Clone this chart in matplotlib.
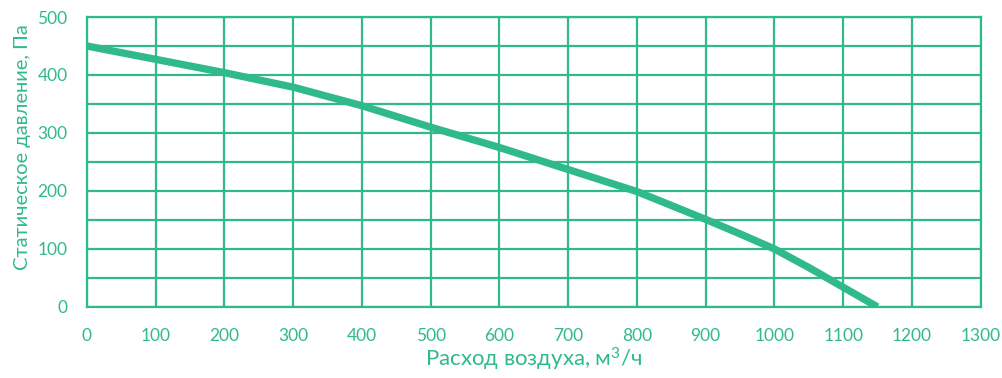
import matplotlib
matplotlib.use("Agg")
import matplotlib.pyplot as plt

# flow rate, m3/h and static pressure, Pa
flow = [0, 100, 200, 300, 400, 500, 600, 700, 800, 900, 950, 1000, 1050, 1100, 1150]
pressure = [450, 427, 404, 379, 347, 310, 275, 237, 199, 151, 126, 100, 68, 34, 0]

x_ticks = list(range(0, 1301, 100))
y_ticks = list(range(0, 501, 100))
y_minor = list(range(50, 500, 100))

GREEN = "#30BA8A"

plt.rcParams['font.family'] = ['Lato', 'DejaVu Sans']
plt.rcParams['mathtext.fontset'] = 'custom'
plt.rcParams['mathtext.rm'] = 'Lato'

fig = plt.figure(figsize=(10.03, 3.78), dpi=100)
ax = fig.add_axes([0.0867, 0.188, 0.891, 0.767])

ax.plot(flow, pressure, color=GREEN, linewidth=5.3, solid_capstyle="butt", zorder=3)

ax.set_xlim(0, 1300)
ax.set_ylim(0, 500)
ax.set_xticks(x_ticks)
ax.set_yticks(y_ticks)
ax.set_yticks(y_minor, minor=True)
ax.grid(True, which="both", color=GREEN, linewidth=1.6)
for s in ax.spines.values():
    s.set_color(GREEN)
    s.set_linewidth(1.6)
ax.tick_params(which="both", length=0, colors=GREEN, labelsize=12.5)
ax.tick_params(axis="x", pad=15.5)
ax.tick_params(axis="y", pad=14)

ax.set_xlabel("Расход воздуха, м$\\mathrm{^3}$/ч", color=GREEN, fontsize=16, labelpad=1)
ax.set_ylabel("Статическое давление, Па", color=GREEN, fontsize=14.5)
ax.yaxis.set_label_coords(-0.063, 0.55)

fig.savefig("out.png", dpi=100)
